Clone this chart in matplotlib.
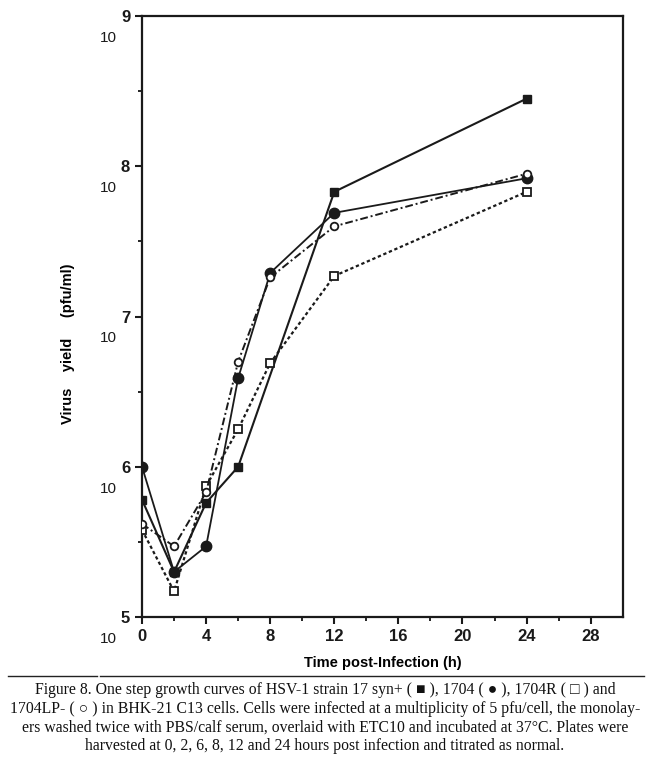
import matplotlib.pyplot as plt
from matplotlib.transforms import blended_transform_factory

# time points (h)
hours = [0, 2, 4, 6, 8, 12, 24]
hours_syn = [0, 2, 4, 6, 12, 24]

# log10 virus yield (pfu/ml)
syn17 = [5.78, 5.30, 5.76, 6.00, 7.83, 8.45]
v1704 = [6.00, 5.30, 5.47, 6.59, 7.29, 7.69, 7.92]
v1704R = [5.58, 5.17, 5.87, 6.25, 6.69, 7.27, 7.83]
v1704LP = [5.62, 5.47, 5.83, 6.70, 7.26, 7.60, 7.95]

xticks = [0, 4, 8, 12, 16, 20, 24, 28]
yticks = [5, 6, 7, 8, 9]

caption = ("Figure 8. One step growth curves of HSV-1 strain 17 syn+ ( \u25a0 ), 1704 ( \u25cf ), 1704R ( \u25a1 ) and\n"
           "1704LP- ( \u25cb ) in BHK-21 C13 cells. Cells were infected at a multiplicity of 5 pfu/cell, the monolay-\n"
           "ers washed twice with PBS/calf serum, overlaid with ETC10 and incubated at 37\u00b0C. Plates were\n"
           "harvested at 0, 2, 6, 8, 12 and 24 hours post infection and titrated as normal.")

plt.rcParams['font.family'] = ['Liberation Sans', 'DejaVu Sans']

fig = plt.figure(figsize=(6.5, 7.67), dpi=100)
ax = fig.add_axes([0.2185, 0.1956, 0.7395, 0.7835])

ink = '#1a1a1a'
ax.plot(hours_syn, syn17, color=ink, lw=1.5, ls='-', marker='s', ms=5.5,
        mfc=ink, mec=ink, zorder=3)
ax.plot(hours, v1704, color=ink, lw=1.3, ls='-', marker='o', ms=7.5,
        mfc=ink, mec=ink, zorder=3)
ax.plot(hours, v1704R, color=ink, lw=1.6, ls=(0, (1.5, 1.2)), marker='s', ms=5.5,
        mfc='white', mec=ink, mew=1.3, zorder=4)
ax.plot(hours, v1704LP, color=ink, lw=1.4, ls=(0, (4, 1.5, 1, 1.5)), marker='o', ms=5.5,
        mfc='white', mec=ink, mew=1.3, zorder=4)

ax.set_xlim(0, 30)
ax.set_ylim(5, 9)
ax.set_xticks(xticks)
ax.set_xticks(range(0, 30, 2), minor=True)
ax.set_yticks(yticks)
ax.set_yticks([5.5, 6.5, 7.5, 8.5], minor=True)
ax.set_yticklabels([str(v) for v in yticks])
ax.tick_params(axis='both', which='major', direction='out', length=5, width=1.5,
               labelsize=12, colors=ink)
ax.tick_params(axis='both', which='minor', direction='out', length=3, width=1.2)
for lab in ax.get_xticklabels() + ax.get_yticklabels():
    lab.set_fontweight('bold')
for sp in ax.spines.values():
    sp.set_linewidth(1.6)
    sp.set_color(ink)

# base "10" under each exponent
trans = blended_transform_factory(ax.transAxes, ax.transData)
for v in yticks:
    ax.text(-0.071, v - 0.146, '10', transform=trans, ha='center', va='center',
            fontsize=11, color=ink)

ax.set_ylabel('Virus    yield     (pfu/ml)', fontsize=10.5, fontweight='bold')
ax.yaxis.set_label_coords(-0.139, 0.455)
ax.set_xlabel('Time post-Infection (h)', fontsize=10.5, fontweight='bold', labelpad=9)

# rule above the caption
fig.add_artist(plt.Line2D([0.012, 0.149], [0.1186, 0.1186], color='#222222', lw=1.0))
fig.add_artist(plt.Line2D([0.154, 0.99], [0.1186, 0.1186], color='#222222', lw=1.0))

fig.text(0.5, 0.064, caption, ha='center', va='center', fontsize=11.3,
         family='Liberation Serif', linespacing=1.22, color='#111111')

fig.savefig('out.png', dpi=100)
